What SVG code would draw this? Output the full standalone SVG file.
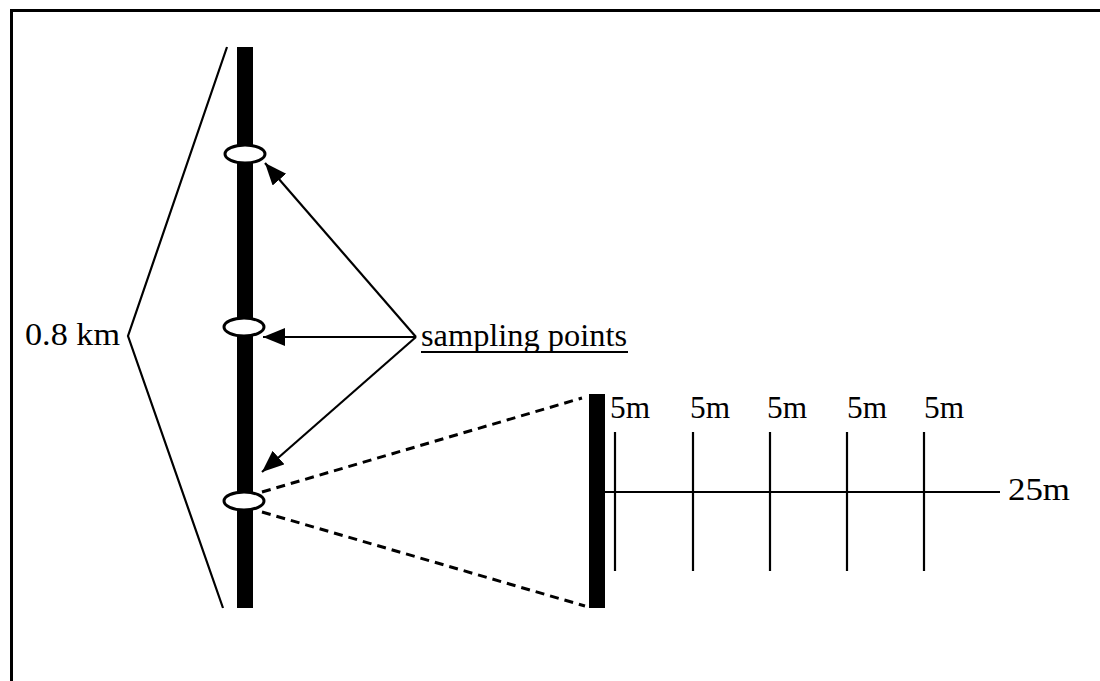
<svg xmlns="http://www.w3.org/2000/svg" width="1100" height="681" viewBox="0 0 1100 681">
<style>
.thin{stroke:#000;stroke-width:2.2;fill:none}
.dash{stroke:#000;stroke-width:3;fill:none;stroke-dasharray:9 6}
.pole{fill:#000}
.pt{fill:#fff;stroke:#000;stroke-width:3}
.t{font-family:'Liberation Serif','DejaVu Serif',serif;font-size:32px;fill:#000}
</style>
<defs>
<marker id="ah" markerUnits="userSpaceOnUse" markerWidth="24" markerHeight="20" refX="22" refY="9" orient="auto">
<path d="M0,0 L22,9 L0,18 Z" fill="#000"/>
</marker>
</defs>
<rect width="1100" height="681" fill="#fff"/>
<g id="frame">
<path d="M10,10.5 H1100 M11.5,9 V681" stroke="#000" stroke-width="3" fill="none"/>
</g>
<g id="stream">
<rect class="pole" x="237" y="47" width="16" height="561"/>
<polyline class="thin" points="227,47 128,336 223,608"/>
<text class="t" font-family="Liberation Serif, serif" x="25" y="345" textLength="95" lengthAdjust="spacingAndGlyphs">0.8 km</text>
</g>
<g id="point1"><ellipse class="pt" cx="245" cy="154" rx="20" ry="9"/></g>
<g id="point2"><ellipse class="pt" cx="244" cy="327" rx="20" ry="9"/></g>
<g id="point3"><ellipse class="pt" cx="244" cy="501" rx="20" ry="9"/></g>
<g id="label">
<text class="t" font-family="Liberation Serif, serif" x="421" y="346" textLength="206" lengthAdjust="spacingAndGlyphs">sampling points</text>
<line x1="421" y1="352" x2="628" y2="352" stroke="#000" stroke-width="2"/>
</g>
<g id="transect">
<rect class="pole" x="589" y="394" width="16" height="214"/>
<line class="thin" x1="605" y1="492" x2="1000" y2="492"/>
<line class="thin" x1="615" y1="432" x2="615" y2="571"/>
<line class="thin" x1="693" y1="432" x2="693" y2="571"/>
<line class="thin" x1="770" y1="432" x2="770" y2="571"/>
<line class="thin" x1="847" y1="432" x2="847" y2="571"/>
<line class="thin" x1="924" y1="432" x2="924" y2="571"/>
<text class="t" font-family="Liberation Serif, serif" x="610" y="418" textLength="40" lengthAdjust="spacingAndGlyphs">5m</text>
<text class="t" font-family="Liberation Serif, serif" x="690" y="418" textLength="40" lengthAdjust="spacingAndGlyphs">5m</text>
<text class="t" font-family="Liberation Serif, serif" x="767" y="418" textLength="40" lengthAdjust="spacingAndGlyphs">5m</text>
<text class="t" font-family="Liberation Serif, serif" x="847" y="418" textLength="40" lengthAdjust="spacingAndGlyphs">5m</text>
<text class="t" font-family="Liberation Serif, serif" x="924" y="418" textLength="40" lengthAdjust="spacingAndGlyphs">5m</text>
<text class="t" font-family="Liberation Serif, serif" x="1008" y="500" textLength="62" lengthAdjust="spacingAndGlyphs">25m</text>
</g>
<g id="connectors">
<line class="thin" x1="416" y1="337" x2="265" y2="163" marker-end="url(#ah)"/>
<line class="thin" x1="416" y1="337" x2="263" y2="337" marker-end="url(#ah)"/>
<line class="thin" x1="416" y1="337" x2="262" y2="472" marker-end="url(#ah)"/>
<line class="dash" x1="262" y1="492" x2="582" y2="398"/>
<line class="dash" x1="262" y1="512" x2="585" y2="606"/>
</g>
</svg>
